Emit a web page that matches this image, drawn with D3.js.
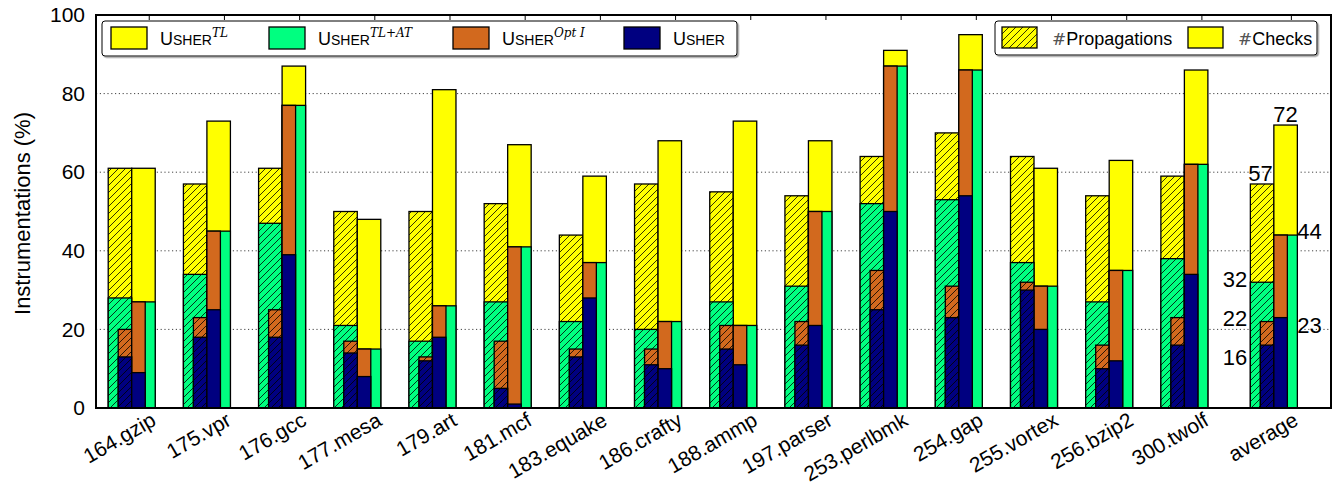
<!DOCTYPE html>
<html>
<head>
<meta charset="utf-8">
<script src="https://cdn.jsdelivr.net/npm/d3@7"></script>
<style>
  html, body { margin: 0; padding: 0; background: #fff; }
  svg { display: block; font-family: "Liberation Sans", Arial, Helvetica, sans-serif; }
</style>
</head>
<body>
<svg id="chart" width="1342" height="487"></svg>
<script>
// Benchmarks (SPEC CPU2000) plus the overall average
const categories = ["164.gzip", "175.vpr", "176.gcc", "177.mesa", "179.art", "181.mcf",
  "183.equake", "186.crafty", "188.ammp", "197.parser", "253.perlbmk", "254.gap",
  "255.vortex", "256.bzip2", "300.twolf", "average"];

// #Propagations (%) per configuration
const propTL    = [61, 57, 61, 50, 50, 52, 44, 57, 55, 54, 64, 70, 64, 54, 59, 57];
const propTLAT  = [28, 34, 47, 21, 17, 27, 22, 20, 27, 31, 52, 53, 37, 27, 38, 32];
const propOptI  = [20, 23, 25, 17, 13, 17, 15, 15, 21, 22, 35, 31, 32, 16, 23, 22];
const propUsher = [13, 18, 18, 14, 12,  5, 13, 11, 15, 16, 25, 23, 30, 10, 16, 16];

// #Checks (%) per configuration
const chkTL    = [61, 73, 87, 48, 81, 67, 59, 68, 73, 68, 91, 95, 61, 63, 86, 72];
const chkTLAT  = [27, 45, 77, 15, 26, 41, 37, 22, 21, 50, 87, 86, 31, 35, 62, 44];
const chkOptI  = [27, 45, 77, 15, 26, 41, 37, 22, 21, 50, 87, 86, 31, 35, 62, 44];
const chkUsher = [ 9, 25, 39,  8, 18,  1, 28, 10, 11, 21, 50, 54, 20, 12, 34, 23];

const yTicks = [0, 20, 40, 60, 80, 100];

// Series drawn back to front
const series = [
  { id: "tl",   color: "#ffff00", sup: "TL",    wide: true,  prop: propTL,    chk: chkTL },
  { id: "tlat", color: "#00ff80", sup: "TL+AT", wide: true,  prop: propTLAT,  chk: chkTLAT },
  { id: "opti", color: "#d2691e", sup: "Opt I", wide: false, prop: propOptI,  chk: chkOptI },
  { id: "ush",  color: "#000080", sup: "",      wide: false, prop: propUsher, chk: chkUsher }
];

const svg = d3.select("#chart");
const plot = { left: 96, right: 1331, top: 15, bottom: 408 };

// slot position for each category; the average sits after a small gap
const AVG_GAP = 0.19;
const slots = categories.map((c, i) => i === categories.length - 1 ? i + AVG_GAP : i);

const x = d3.scaleLinear().domain([-0.475, 15.95]).range([plot.left, plot.right]);
const y = d3.scaleLinear().domain([0, 100]).range([plot.bottom, plot.top]);

const WIDE = 23.5, NARROW = 13.5;
const TICK_SHIFT = 0.233;

// hatch patterns for the #Propagations bars
const defs = svg.append("defs");
series.forEach(s => {
  const p = defs.append("pattern")
    .attr("id", "hatch-" + s.id)
    .attr("patternUnits", "userSpaceOnUse")
    .attr("width", 7).attr("height", 7);
  p.append("rect").attr("width", 7).attr("height", 7).attr("fill", s.color);
  p.append("path")
    .attr("d", "M-1,1 l2,-2 M0,7 l7,-7 M6,8 l2,-2")
    .attr("stroke", "#000").attr("stroke-width", 0.8);
});
{
  const f = defs.append("filter").attr("id", "shadow").attr("x", "-5%").attr("y", "-20%")
    .attr("width", "110%").attr("height", "150%");
  f.append("feDropShadow").attr("dx", 1.5).attr("dy", 1.5).attr("stdDeviation", 0.6)
    .attr("flood-color", "#888").attr("flood-opacity", 0.8);
}

// dotted grid lines
svg.append("g").selectAll("line")
  .data(yTicks.filter(v => v > 0 && v < 100))
  .join("line")
  .attr("x1", plot.left).attr("x2", plot.right)
  .attr("y1", d => y(d)).attr("y2", d => y(d))
  .attr("stroke", "#444").attr("stroke-width", 1)
  .attr("stroke-dasharray", "1.2,2.6");

// category ticks on top and bottom edges
const tickG = svg.append("g");
slots.forEach(sl => {
  const tx = x(sl + TICK_SHIFT);
  tickG.append("line").attr("x1", tx).attr("x2", tx).attr("y1", plot.top).attr("y2", plot.top + 5)
    .attr("stroke", "#000").attr("stroke-width", 1);
  tickG.append("line").attr("x1", tx).attr("x2", tx).attr("y1", plot.bottom).attr("y2", plot.bottom - 5)
    .attr("stroke", "#000").attr("stroke-width", 1);
});

// bars
const barG = svg.append("g");
categories.forEach((c, i) => {
  const s0 = x(slots[i]);
  series.forEach(s => {
    const w = s.wide ? WIDE : NARROW;
    // #Propagations (hatched, left of the split)
    barG.append("rect")
      .attr("x", s0 - w).attr("width", w)
      .attr("y", y(s.prop[i])).attr("height", y(0) - y(s.prop[i]))
      .attr("fill", "url(#hatch-" + s.id + ")")
      .attr("stroke", "#000").attr("stroke-width", 1.3);
    // #Checks (solid, right of the split)
    barG.append("rect")
      .attr("x", s0).attr("width", w)
      .attr("y", y(s.chk[i])).attr("height", y(0) - y(s.chk[i]))
      .attr("fill", s.color)
      .attr("stroke", "#000").attr("stroke-width", 1.3);
  });
});

// value labels on the average group
const ai = categories.length - 1;
const sa = x(slots[ai]);
const avgLabels = [
  { v: propTL[ai],    x: sa - 1,            dy: -3,  anchor: "end" },
  { v: chkTL[ai],     x: sa + WIDE / 2,     dy: -3,  anchor: "middle" },
  { v: chkTLAT[ai],   x: sa + WIDE,         dy: 4,   anchor: "start" },
  { v: propTLAT[ai],  x: sa - WIDE - 3,     dy: 5,   anchor: "end" },
  { v: propOptI[ai],  x: sa - WIDE - 3,     dy: 4,   anchor: "end" },
  { v: propUsher[ai], x: sa - WIDE - 3,     dy: 20,  anchor: "end" },
  { v: chkUsher[ai],  x: sa + WIDE,         dy: 15,  anchor: "start" }
];
svg.append("g").selectAll("text").data(avgLabels).join("text")
  .attr("x", d => d.x).attr("y", d => y(d.v) + d.dy)
  .attr("text-anchor", d => d.anchor)
  .attr("font-size", 22)
  .text(d => d.v);

// plot frame
svg.append("rect")
  .attr("x", plot.left).attr("y", plot.top)
  .attr("width", plot.right - plot.left).attr("height", plot.bottom - plot.top)
  .attr("fill", "none").attr("stroke", "#000").attr("stroke-width", 2);

// y axis labels
const yAxis = d3.axisLeft(y).tickValues(yTicks).tickSize(0).tickPadding(11);
svg.append("g").attr("transform", `translate(${plot.left},0)`).call(yAxis)
  .call(g => g.select(".domain").remove())
  .selectAll("text")
  .attr("font-size", 21)
  .attr("font-family", "Liberation Sans, Arial, sans-serif")
  .attr("fill", "#000");

svg.append("text")
  .attr("transform", `translate(30,${(plot.top + plot.bottom) / 2 + 2}) rotate(-90)`)
  .attr("text-anchor", "middle")
  .attr("font-size", 22)
  .text("Instrumentations (%)");

// x axis labels (rotated, right end at the category tick)
const LABEL_ANGLE = -30;
svg.append("g").selectAll("text").data(categories).join("text")
  .attr("transform", (d, i) => `translate(${x(slots[i] + TICK_SHIFT) + 4},${plot.bottom + 9}) rotate(${LABEL_ANGLE})`)
  .attr("text-anchor", "end")
  .attr("dy", "0.4em")
  .attr("font-size", 21)
  .text(d => d);

// legend: configurations
function usherLabel(sel, sup) {
  sel.append("tspan").attr("font-size", 18).text("U");
  sel.append("tspan").attr("font-size", 14).text("SHER");
  if (sup) {
    sel.append("tspan")
      .attr("font-size", 12).attr("font-style", "italic")
      .attr("font-family", "DejaVu Serif, Liberation Serif, serif")
      .attr("dy", -8).text(sup);
  }
}
const leg1 = svg.append("g");
leg1.append("rect").attr("x", 102).attr("y", 21).attr("width", 635).attr("height", 35)
  .attr("rx", 3).attr("fill", "#fff").attr("stroke", "#000").attr("stroke-width", 1)
  .attr("filter", "url(#shadow)");
const leg1X = [111, 269, 453, 624];
series.forEach((s, k) => {
  leg1.append("rect").attr("x", leg1X[k]).attr("y", 27).attr("width", 36).attr("height", 22)
    .attr("fill", s.color).attr("stroke", "#000").attr("stroke-width", 1.3);
  const t = leg1.append("text").attr("x", leg1X[k] + 49).attr("y", 45);
  usherLabel(t, s.sup);
});

// legend: metrics
const leg2 = svg.append("g");
leg2.append("rect").attr("x", 995).attr("y", 21).attr("width", 322).attr("height", 34)
  .attr("rx", 3).attr("fill", "#fff").attr("stroke", "#000").attr("stroke-width", 1)
  .attr("filter", "url(#shadow)");
const metrics = [
  { label: "Propagations", fill: "url(#hatch-tl)", x: 1002 },
  { label: "Checks", fill: series[0].color, x: 1188 }
];
metrics.forEach(m => {
  leg2.append("rect").attr("x", m.x).attr("y", 27).attr("width", 35).attr("height", 21)
    .attr("fill", m.fill).attr("stroke", "#000").attr("stroke-width", 1.3);
  const t = leg2.append("text").attr("x", m.x + 50).attr("y", 45).attr("font-size", 18);
  t.append("tspan").attr("fill", "#555").attr("font-family", "DejaVu Serif, serif").attr("font-size", 17).text("#");
  t.append("tspan").text(m.label);
});
</script>
</body>
</html>
